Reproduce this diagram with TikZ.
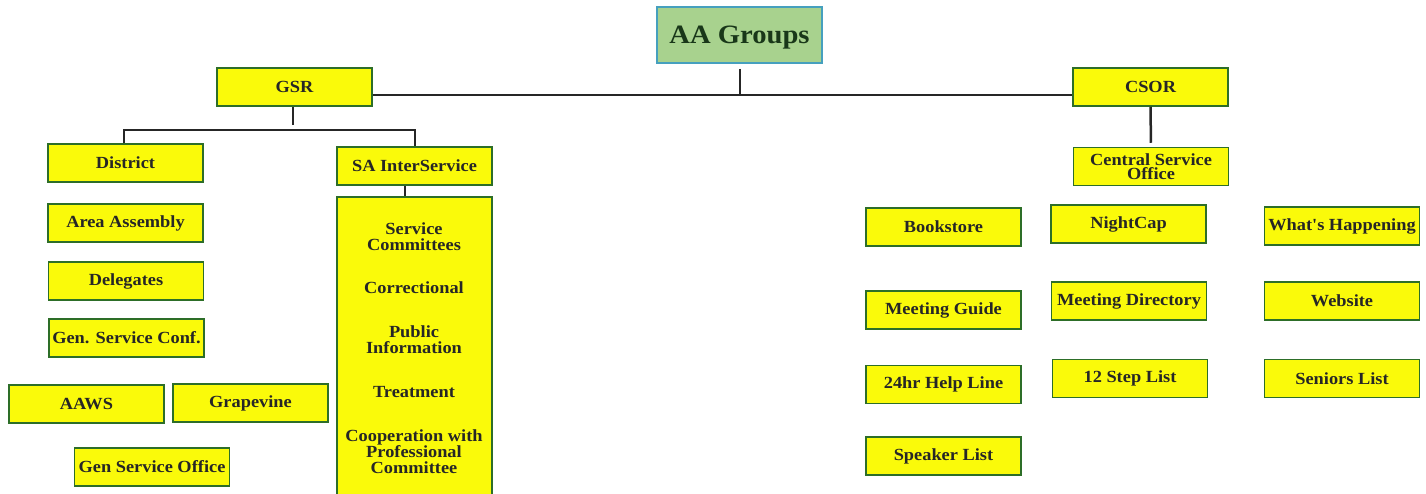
\documentclass[tikz,border=0pt]{standalone}
\usepackage{fontspec}
\setmainfont{Liberation Serif}
\newfontfamily\boxfont[FakeStretch=1.08]{Liberation Serif}
\definecolor{yfill}{RGB}{250,250,10}
\definecolor{yline}{RGB}{45,110,40}
\definecolor{gfill}{RGB}{168,210,142}
\definecolor{gline}{RGB}{70,160,190}
\definecolor{gtext}{RGB}{25,55,25}
\tikzset{
  ybox/.style={draw=yline, line width=1.5pt, fill=yfill, inner sep=0pt,
    minimum width=155pt, minimum height=38pt, align=center,
    font=\boxfont\bfseries\fontsize{17}{14.5}\selectfont, text=black!85},
  btext/.style={inner sep=0pt, align=center,
    font=\boxfont\bfseries\fontsize{17}{16}\selectfont, text=black!85},
  conn/.style={draw=black!85, line width=2pt}
}
\begin{document}
\begin{tikzpicture}[x=1pt,y=-1pt]
\useasboundingbox (0,0) rectangle (1426,493);
\fill[white] (0,0) rectangle (1426,493);
% top
\node[draw=gline, line width=1.5pt, fill=gfill, inner sep=0pt, minimum width=165pt, minimum height=56pt,
  text depth=0pt, font=\boxfont\bfseries\fontsize{26.5}{27}\selectfont, text=gtext] (aa) at (739.5,35) {AA Groups};
\node[ybox] (gsr) at (294.5,87) {GSR};
\node[ybox] (csor) at (1150.5,87) {CSOR};
\node[ybox] (cso) at (1151,166.5) {Central Service\\Office};
% left column
\node[ybox] (district) at (125.5,163) {District};
\node[ybox] (area) at (125.5,223) {Area Assembly};
\node[ybox] (deleg) at (126,281) {Delegates};
\node[ybox] (gsc) at (126.5,338) {Gen. Service Conf.};
\node[ybox] (aaws) at (86.5,404) {AAWS};
\node[ybox] (grape) at (250.5,403) {Grapevine};
\node[ybox] (gso) at (152,467) {Gen Service Office};
% SA InterService
\node[ybox] (sai) at (414.5,166) {SA InterService};
\node[draw=yline, line width=1.5pt, fill=yfill, inner sep=0pt, minimum width=155pt, minimum height=302pt] (big) at (414.5,348) {};
\node[btext] (svc) at (414,237) {Service\\Committees};
\node[btext] (corr) at (414,288) {Correctional};
\node[btext] (pub) at (414,340) {Public\\Information};
\node[btext] (treat) at (414,392) {Treatment};
\node[btext] (coop) at (414,452) {Cooperation with\\Professional\\Committee};
% right columns
\node[ybox] (book) at (943.5,227) {Bookstore};
\node[ybox] (mguide) at (943.5,310) {Meeting Guide};
\node[ybox] (help) at (943.5,384.5) {24hr Help Line};
\node[ybox] (speaker) at (943.5,456) {Speaker List};
\node[ybox] (night) at (1128.5,224) {NightCap};
\node[ybox] (mdir) at (1129,301) {Meeting Directory};
\node[ybox] (step12) at (1130,378.5) {12 Step List};
\node[ybox] (whats) at (1342,226) {What's Happening};
\node[ybox] (web) at (1342,301) {Website};
\node[ybox] (senior) at (1342,378.5) {Seniors List};
% connectors
\coordinate (hub) at (740,95);
\coordinate (gsrhub) at (293,130);
\draw[conn] (gsr.east |- hub) -- (csor.west |- hub);
\draw[conn, shorten <=5pt] (aa.south -| hub) -- (hub);
\draw[conn] (gsr.south -| gsrhub) -- ([yshift=5pt]gsrhub);
\draw[conn] ([xshift=-1.5pt]district.north) |- (gsrhub) -| ([xshift=0.5pt]sai.north);
\draw[conn] ([xshift=-9.5pt]sai.south) -- ([xshift=-9.5pt]sai.south |- big.north);
\draw[conn, line width=2.5pt, shorten >=4pt] (csor.south) -- (cso.north);
\end{tikzpicture}
\end{document}
